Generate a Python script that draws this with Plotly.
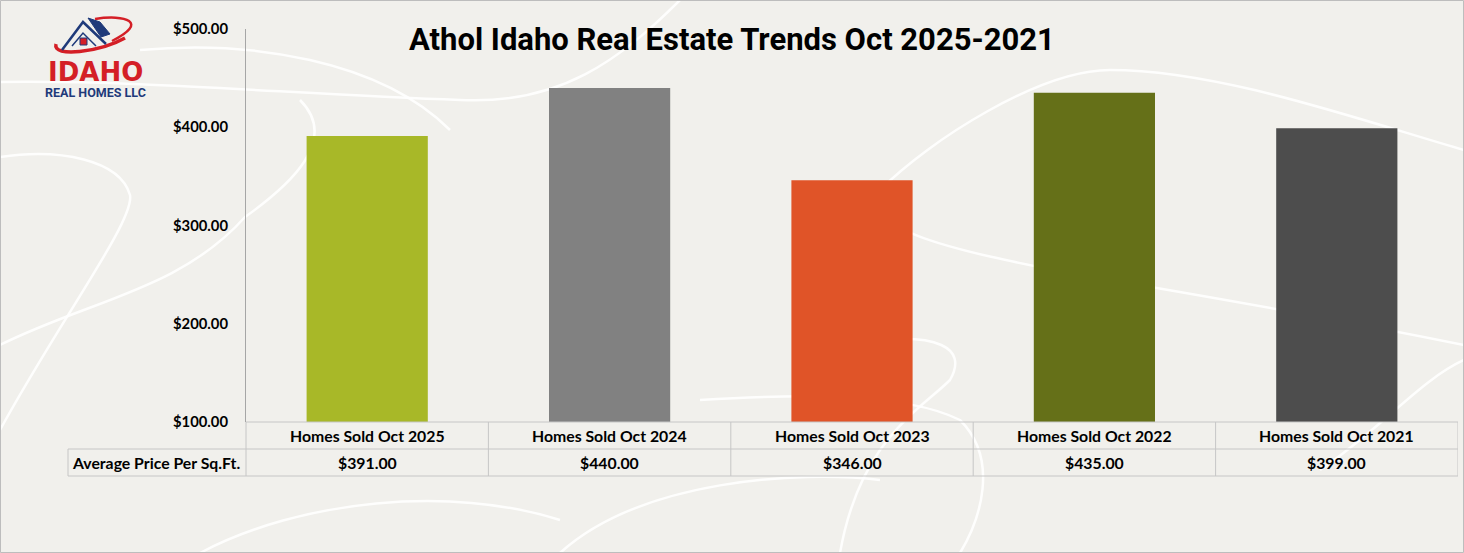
import plotly.graph_objects as go

# ---- data ----
categories = ["Homes Sold Oct 2025", "Homes Sold Oct 2024", "Homes Sold Oct 2023",
              "Homes Sold Oct 2022", "Homes Sold Oct 2021"]
values = [391, 440, 346, 435, 399]
value_labels = ["$391.00", "$440.00", "$346.00", "$435.00", "$399.00"]
row_label = "Average Price Per Sq.Ft."
bar_colors = ["#a8b828", "#818181", "#e05428", "#657018", "#4d4d4d"]
tick_vals = [100, 200, 300, 400, 500]
title_text = "Athol Idaho Real Estate Trends Oct 2025-2021"

W, H = 1464, 553
def px(x):
    return x / W
def py(y):
    return 1 - y / H

x_left, x_right = 246, 1458
y_top, y_bot = 29, 422
row1, row2 = 449, 476
tbl_left = 68

fig = go.Figure()
fig.add_trace(go.Bar(
    x=list(range(len(categories))), y=values,
    marker=dict(color=bar_colors, line=dict(width=0)),
    width=0.5, hoverinfo="skip",
))

shapes = []
swirl = dict(type="path", xref="paper", yref="paper", layer="below",
             line=dict(color="rgba(255,255,255,0.9)", width=2.5))
def P(pts):
    s = "M {} {}".format(px(pts[0][0]), py(pts[0][1]))
    for i in range(1, len(pts), 3):
        a, b, c = pts[i], pts[i + 1], pts[i + 2]
        s += " C {} {}, {} {}, {} {}".format(px(a[0]), py(a[1]), px(b[0]), py(b[1]), px(c[0]), py(c[1]))
    return s
swirl_paths = [
    # top-left arcs near logo
    [(140, 50), (250, 40), (380, 60), (450, 130)],
    [(0, 82), (150, 80), (300, 95), (460, 100)],
    [(460, 100), (560, 105), (620, 60), (680, 0)],
    # left loop
    [(0, 157), (60, 148), (120, 160), (130, 195), (135, 220), (60, 320), (0, 430)],
    [(0, 345), (90, 300), (180, 290), (245, 217), (290, 185), (340, 140), (300, 100)],
    # right big loop
    [(880, 190), (930, 140), (1040, 70), (1110, 70), (1220, 70), (1360, 120), (1464, 150)],
    [(880, 190), (860, 230), (950, 250), (1080, 275), (1200, 295), (1340, 320), (1464, 345)],
    [(1464, 360), (1420, 380), (1380, 430), (1320, 470)],
    # bottom
    [(880, 340), (930, 335), (970, 345), (950, 380), (920, 410), (860, 440), (840, 553)],
    [(700, 400), (780, 395), (900, 390), (960, 420), (1000, 460), (980, 520), (960, 553)],
    [(560, 553), (640, 480), (800, 470), (880, 480)],
    [(200, 553), (300, 500), (450, 485), (560, 520)],
]
for p in swirl_paths:
    shapes.append(dict(swirl, path=P(p)))

# frame border
shapes.append(dict(type="rect", xref="paper", yref="paper", x0=px(0.5), x1=px(W - 0.5),
                   y0=py(H - 0.5), y1=py(0.5), line=dict(color="#bdbdbd", width=1), layer="above"))

grid = dict(color="#c6c6c6", width=1)
shapes.append(dict(type="line", xref="paper", yref="paper", x0=px(x_left), x1=px(x_right),
                   y0=py(y_bot), y1=py(y_bot), line=grid))
for yy in (row1, row2):
    shapes.append(dict(type="line", xref="paper", yref="paper", x0=px(tbl_left), x1=px(x_right),
                       y0=py(yy), y1=py(yy), line=grid))
shapes.append(dict(type="line", xref="paper", yref="paper", x0=px(tbl_left), x1=px(tbl_left),
                   y0=py(row1), y1=py(row2), line=grid))
shapes.append(dict(type="line", xref="paper", yref="paper", x0=px(x_left), x1=px(x_left),
                   y0=py(y_bot), y1=py(row2), line=grid))
for i in range(len(categories)):
    shapes.append(dict(type="line", xref="x", yref="paper", x0=i + 0.5, x1=i + 0.5,
                       y0=py(y_bot), y1=py(row2), line=grid))

# logo shapes
navy = "#1f3a7a"
red = "#d41f26"
logo = dict(type="path", xref="paper", yref="paper", layer="above")
# red swoosh (tilted ellipse)
shapes.append(dict(logo, path=P([(56, 44), (52, 58), (100, 52), (125, 38)]),
                   line=dict(color=red, width=3.5)))
shapes.append(dict(logo, path=P([(95, 19), (125, 14), (150, 22), (112, 41)]),
                   line=dict(color=red, width=2.5)))
# roof
shapes.append(dict(logo, path="M {} {} L {} {} L {} {}".format(px(62), py(50), px(83), py(22), px(106), py(44)),
                   line=dict(color=navy, width=2.5)))
shapes.append(dict(logo, path="M {} {} L {} {} L {} {}".format(px(72), py(46), px(83), py(33), px(96), py(46)),
                   line=dict(color=navy, width=1.5)))
# solar panels
shapes.append(dict(logo, path="M {} {} L {} {} L {} {} L {} {} Z".format(px(88), py(18), px(100), py(22),
                                                                        px(110), py(34), px(101), py(37)),
                   fillcolor=navy, line=dict(color=navy, width=1)))
# window
shapes.append(dict(type="rect", xref="paper", yref="paper", x0=px(80), x1=px(87), y0=py(45), y1=py(38),
                   fillcolor=red, line=dict(color=navy, width=1), layer="above"))

annotations = []
annotations.append(dict(text="<b>" + title_text + "</b>", xref="paper", yref="paper",
                        x=px(732), y=py(40), showarrow=False, xanchor="center", yanchor="middle",
                        font=dict(family="Roboto", size=31, color="#000000")))
annotations.append(dict(text="<b>IDAHO</b>", xref="paper", yref="paper", x=px(95), y=py(72),
                        showarrow=False, xanchor="center", yanchor="middle", borderpad=0,
                        font=dict(family="DejaVu Sans", size=26, color=red)))
annotations.append(dict(text="<b>REAL HOMES LLC</b>", xref="paper", yref="paper", x=px(95), y=py(93),
                        showarrow=False, xanchor="center", yanchor="middle", borderpad=0,
                        font=dict(family="Roboto", size=12.5, color=navy)))
cell_font = dict(family="Lato", size=15.8, color="#000000")
for i, (c, v) in enumerate(zip(categories, value_labels)):
    annotations.append(dict(text="<b>" + c + "</b>", xref="x", yref="paper", x=i, y=py((y_bot + row1) / 2),
                            showarrow=False, xanchor="center", yanchor="middle", font=cell_font))
    annotations.append(dict(text="<b>" + v + "</b>", xref="x", yref="paper", x=i, y=py((row1 + row2) / 2),
                            showarrow=False, xanchor="center", yanchor="middle", font=cell_font))
annotations.append(dict(text="<b>" + row_label + "</b>", xref="paper", yref="paper",
                        x=px(70), y=py((row1 + row2) / 2), showarrow=False, xanchor="left",
                        yanchor="middle", font=cell_font))

fig.update_layout(
    width=W, height=H, margin=dict(l=0, r=0, t=0, b=0, autoexpand=False),
    paper_bgcolor="#f1f0ec", plot_bgcolor="rgba(0,0,0,0)",
    showlegend=False,
    xaxis=dict(domain=[px(x_left), px(x_right)], range=[-0.5, len(categories) - 0.5],
               showticklabels=False, showgrid=False, zeroline=False, showline=False,
               fixedrange=True, automargin=False),
    yaxis=dict(domain=[py(y_bot), py(y_top)], range=[100, 500], tickvals=tick_vals,
               ticktext=["<b>${:.2f}</b>".format(t) for t in tick_vals],
               showgrid=False, zeroline=False, showline=True, linecolor="#a6a6a6", linewidth=1,
               ticks="", ticklabelstandoff=14, automargin=False, fixedrange=True,
               tickfont=dict(family="Lato", size=14.8, color="#000000")),
    shapes=shapes, annotations=annotations,
)

fig.write_html("out.html", config={"displayModeBar": False},
               post_script="document.body.style.margin='0';document.body.style.overflow='hidden';")
